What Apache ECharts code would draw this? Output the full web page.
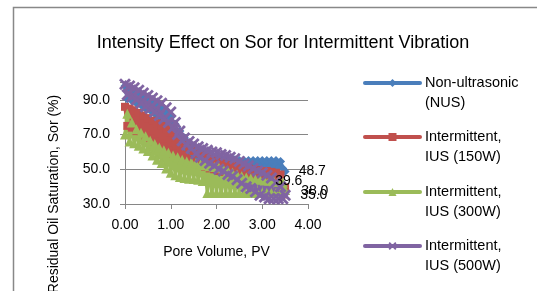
<!DOCTYPE html>
<html>
<head>
<meta charset="utf-8">
<script src="https://cdn.jsdelivr.net/npm/echarts@6/dist/echarts.min.js"></script>
<style>
  html, body { margin: 0; padding: 0; background: #fff; }
  #chart { width: 537px; height: 291px; }
</style>
</head>
<body>
<div id="chart"></div>
<script>
// pore volume readings (PV)
const pv = [0.00,0.05,0.10,0.15,0.20,0.25,0.30,0.35,0.40,0.45,0.50,0.55,0.60,0.65,0.70,0.75,0.80,0.85,0.90,0.95,
  1.00,1.05,1.10,1.15,1.20,1.25,1.30,1.35,1.40,1.45,1.50,1.55,1.60,1.65,1.70,1.75,1.80,1.85,1.90,1.95,
  2.00,2.05,2.10,2.15,2.20,2.25,2.30,2.35,2.40,2.45,2.50,2.55,2.60,2.65,2.70,2.75,2.80,2.85,2.90,2.95,
  3.00,3.05,3.10,3.15,3.20,3.25,3.30,3.35,3.40,3.45,3.50];

// Sor (%) per series
const nus = [98,90.5,97,89.5,96,88,94.5,87,93,85, 91.5,84,90,82,88,80,86,77.5,83,74.5,
  80,71,76,68,72,64.5,68,62,65,60, 63,58,61,56.5,59.5,55.5,58.5,54.5,57.5,54,
  57,53,56.5,52.5,56,52.5,55.5,52,55.5,52, 55,51.5,55,51,55,51,55,51,55,51,
  55,51,55,51,55,51,55,51,54.5,50.5, 48.7];
const ius150 = [86,75,85,74,84,72,82.5,71,81,69, 79.5,68,78,66,76.5,65,75,63,73,61,
  71,59,68.5,58,66,56.5,64,55.5,62,54.5, 60.5,53.5,59,52.5,58,51.5,57,50.5,56,50,
  55,49,54,48.5,53,48,52.5,47,52,47, 51.5,46,51,46,50.5,45,50,45,49.5,45,
  49,44.5,49,44,48.5,43.5,48,42.5,47,35.5, 39.6];
const ius300 = [70,82,66,77,65,73,63.5,71,62,69, 60.5,66.5,58,64.5,55.5,62.5,53.6,61,50.5,59.5,
  48,58,46.5,57,45.6,55.5,45,54.5,44.6,54, 44.4,53.3,44,52.8,43.3,52.3,36.3,51.8,36.3,51.3,
  36.3,51,36.3,50,36.3,49,36.3,48,36.3,47, 36.3,46,36.3,45.3,36.3,44.7,36.3,44.2,36.3,43.9,
  36.3,43.6,36.3,43.4,36.3,43.1,36.3,42.8,36.3,42.3, 38.0];
const ius500 = [99,93,98,92,97,90,95.5,88,94,86, 92.5,85,91,83,89.5,81,88,79,85.5,77,
  83,74,77,70,72,66.5,68,64,66,62, 64.5,59,63,57,62,55,61,53.5,60,52,
  59.5,50,58.5,49,58,47,57,46,56,44, 54.5,42,53,40,52,39,50.5,37,49,35,
  48,34,46.5,33,45,33,42.5,33,40,33, 35];

const seriesNames = ['Non-ultrasonic\n(NUS)', 'Intermittent,\nIUS (150W)', 'Intermittent,\nIUS (300W)', 'Intermittent,\nIUS (500W)'];
const seriesValues = [nus, ius150, ius300, ius500];
const xTicks = [0, 1, 2, 3, 4];
const yGrid = [50, 70, 90];

const colors = ['#4A7EBB', '#C0504D', '#9BBB59', '#8064A2'];
const symbols = ['diamond', 'rect', 'triangle',
  'path://M0,2 L2,0 L6,4 L10,0 L12,2 L8,6 L12,10 L10,12 L6,8 L2,12 L0,10 L4,6 Z'];
const symbolSizes = [9, 8, 10, 12];
const lineWidths = [3.5, 3.5, 3.5, 2.5];
const labelOffsets = [[4, 0], [-19, -6], [6, 1], [4, 0]];
const legendTops = [53, 107, 162, 216];
const FONT = '"Liberation Sans", Arial, sans-serif';

const chart = echarts.init(document.getElementById('chart'));

const series = seriesValues.map((vals, i) => ({
  name: seriesNames[i],
  type: 'line',
  clip: false,
  symbol: symbols[i],
  symbolSize: symbolSizes[i],
  showAllSymbol: true,
  color: colors[i],
  lineStyle: { width: lineWidths[i], color: colors[i] },
  itemStyle: { color: colors[i] },
  data: vals.map((v, k) => {
    const pt = { value: [pv[k], v] };
    if (k === vals.length - 1) {
      pt.label = {
        show: true,
        position: 'right',
        offset: labelOffsets[i],
        formatter: v.toFixed(1),
        color: '#000',
        fontSize: 14,
        fontFamily: FONT
      };
    }
    return pt;
  }),
  markLine: i === 0 ? {
    silent: true,
    z: 1,
    symbol: ['none', 'none'],
    label: { show: false },
    lineStyle: { color: '#868686', type: 'solid', width: 1 },
    data: yGrid.map(g => ({ yAxis: g }))
  } : undefined
}));

// blank first line so the icon sits beside the first text line
const legends = seriesNames.map((n, i) => ({
  data: [n],
  orient: 'vertical',
  left: 363,
  top: legendTops[i],
  padding: 0,
  itemWidth: 55,
  itemHeight: 10,
  lineStyle: { width: 4, cap: 'round' },
  formatter: name => '\u00a0\n' + name,
  textStyle: {
    fontSize: 14.5,
    fontFamily: FONT,
    color: '#000',
    lineHeight: 20
  }
}));

chart.setOption({
  animation: false,
  title: {
    text: 'Intensity Effect on Sor for Intermittent Vibration',
    left: 278,
    top: 29,
    textAlign: 'center',
    textStyle: { fontSize: 18, fontWeight: 'normal', color: '#000', fontFamily: FONT }
  },
  legend: legends,
  grid: { left: 125, right: 229, top: 82.5, bottom: 87 },
  xAxis: {
    type: 'value',
    min: xTicks[0],
    max: xTicks[xTicks.length - 1],
    interval: 1,
    name: 'Pore Volume, PV',
    nameLocation: 'middle',
    nameGap: 41,
    nameTextStyle: { fontSize: 14, color: '#000', fontFamily: FONT },
    axisLine: { lineStyle: { color: '#868686' } },
    axisTick: { show: true, length: 5, lineStyle: { color: '#868686' } },
    axisLabel: { color: '#000', fontSize: 14, fontFamily: FONT, margin: 14, formatter: v => v.toFixed(2) },
    splitLine: { show: false }
  },
  yAxis: {
    type: 'value',
    min: 30,
    max: 100,
    interval: 20,
    axisLine: { show: true, lineStyle: { color: '#868686' } },
    axisTick: { show: true, length: 5, lineStyle: { color: '#868686' } },
    axisLabel: { color: '#000', fontSize: 14, fontFamily: FONT, margin: 15,
      formatter: v => (v >= 100 ? '' : v.toFixed(1)) },
    splitLine: { show: false }
  },
  graphic: [
    {
      type: 'rect',
      silent: true,
      z: -10,
      shape: { x: 13.5, y: 7.5, width: 700, height: 500 },
      style: { fill: 'none', stroke: '#888888', lineWidth: 1.5 }
    },
    {
      type: 'text',
      x: 54,
      y: 194,
      rotation: Math.PI / 2,
      style: {
        text: 'Residual Oil Saturation, Sor (%)',
        fontSize: 14,
        fontFamily: FONT,
        fill: '#000',
        align: 'center',
        verticalAlign: 'middle'
      }
    }
  ],
  series: series
});
</script>
</body>
</html>
